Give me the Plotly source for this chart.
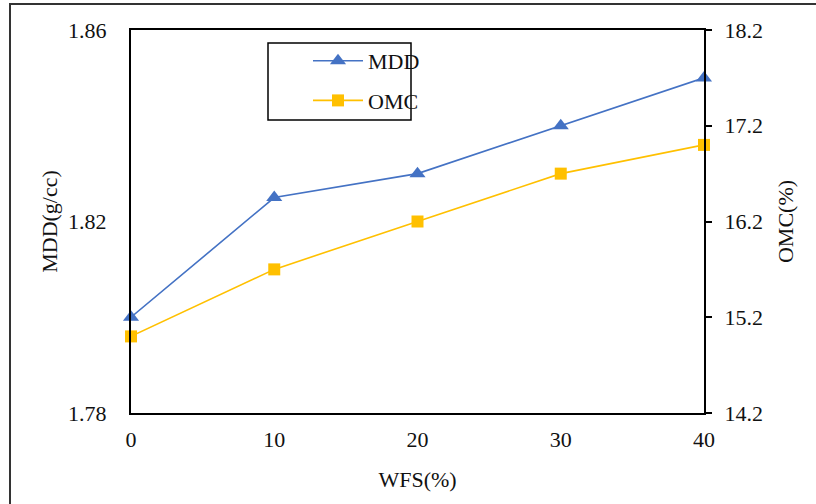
import plotly.graph_objects as go

# Compaction results vs. waste foundry sand content
wfs = [0, 10, 20, 30, 40]
mdd = [1.80, 1.825, 1.83, 1.84, 1.85]
omc = [15.0, 15.7, 16.2, 16.7, 17.0]

FONT = "Liberation Serif, Times New Roman, serif"
BLUE = "#4472C4"
GOLD = "#FFC000"
INK = "#111111"

L, R, T, B = 131, 112, 30, 91
W, H = 816, 504
pw, ph = W - L - R, H - T - B


def px_x(x):
    return (x - L) / pw


def px_y(y):
    return (H - B - y) / ph


fig = go.Figure()
fig.add_trace(go.Scatter(
    x=wfs, y=mdd, name="MDD", mode="lines+markers",
    line=dict(color=BLUE, width=1.6),
    marker=dict(symbol="triangle-up", size=14, color=BLUE),
    cliponaxis=False, legendgroup="a",
))
fig.add_trace(go.Scatter(
    x=wfs, y=omc, name="OMC", mode="lines+markers", yaxis="y2",
    line=dict(color=GOLD, width=1.6),
    marker=dict(symbol="square", size=12, color=GOLD),
    cliponaxis=False, legendgroup="b",
))

fig.update_layout(
    width=W, height=H,
    margin=dict(l=L, r=R, t=T, b=B, autoexpand=False),
    paper_bgcolor="white", plot_bgcolor="white",
    font=dict(family=FONT, size=22, color=INK),
    showlegend=True,
    legend=dict(
        x=px_x(308), y=px_y(40), xanchor="left", yanchor="top",
        bgcolor="rgba(0,0,0,0)", borderwidth=0,
        font=dict(family=FONT, size=22, color=INK),
        itemwidth=50, tracegroupgap=8, traceorder="grouped",
    ),
    xaxis=dict(
        range=[0, 40], tickvals=wfs, showgrid=False, zeroline=False,
        showline=True, linecolor="black", linewidth=2, mirror=True,
        ticks="", ticklabelstandoff=6,
        title=dict(text="WFS(%)", standoff=20, font=dict(size=22)),
    ),
    yaxis=dict(
        range=[1.78, 1.86], tickvals=[1.78, 1.82, 1.86], showgrid=False,
        zeroline=False, showline=True, linecolor="black", linewidth=2,
        ticks="", ticklabelstandoff=18,
        title=dict(text="MDD(g/cc)", standoff=4, font=dict(size=22)),
    ),
    yaxis2=dict(
        range=[14.2, 18.2], tickvals=[14.2, 15.2, 16.2, 17.2, 18.2],
        overlaying="y", side="right", showgrid=False, zeroline=False,
        showline=True, linecolor="black", linewidth=2,
        ticks="outside", ticklen=6, tickwidth=2, tickcolor="black",
        ticklabelstandoff=8,
        title=dict(text="OMC(%)", standoff=16, font=dict(size=22)),
    ),
    shapes=[
        # legend frame
        dict(type="rect", xref="paper", yref="paper",
             x0=px_x(268), x1=px_x(411), y0=px_y(120), y1=px_y(43),
             line=dict(color="black", width=1.5), fillcolor="rgba(0,0,0,0)"),
        # outer frame
        dict(type="rect", xref="paper", yref="paper",
             x0=px_x(10), x1=px_x(W + 40), y0=px_y(H + 40), y1=px_y(4),
             line=dict(color="#333333", width=2), fillcolor="rgba(0,0,0,0)",
             layer="below"),
    ],
)

fig.write_html("out.html")
